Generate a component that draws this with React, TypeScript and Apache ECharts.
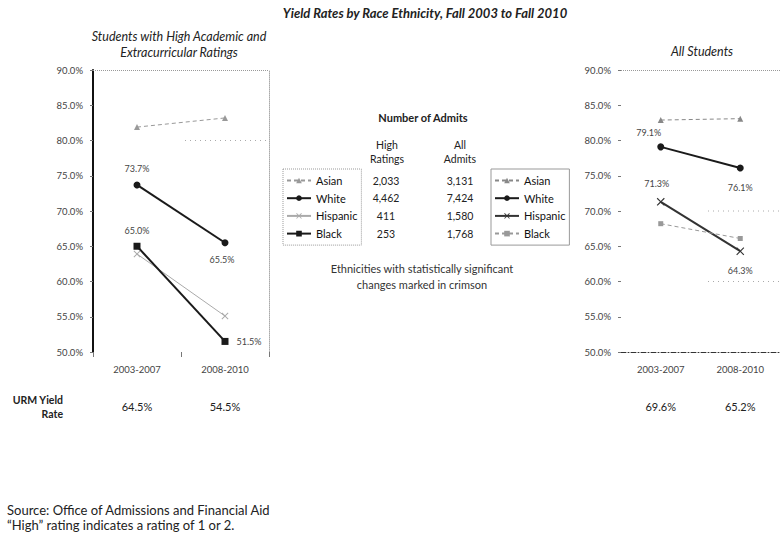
import React, { useEffect, useRef } from "react";
import * as echarts from "echarts";

// ---- data ----
const periods = ["2003-2007", "2008-2010"];
const ethnicities = ["Asian", "White", "Hispanic", "Black"];

// yield rates (%), students with high academic & extracurricular ratings
const highAsian = [81.9, 83.2];
const highWhite = [73.7, 65.5];
const highHispanic = [63.9, 55.1];
const highBlack = [65.0, 51.5];

// yield rates (%), all students
const allAsian = [82.9, 83.1];
const allWhite = [79.1, 76.1];
const allHispanic = [71.3, 64.3];
const allBlack = [68.2, 66.1];

// URM yield rate (%) per period
const urmHigh = [64.5, 54.5];
const urmAll = [69.6, 65.2];

// number of admits
const admitsHigh = ["2,033", "4,462", "411", "253"];
const admitsAll = ["3,131", "7,424", "1,580", "1,768"];

const Y_MIN = 50;
const Y_MAX = 90;
const Y_STEP = 5;

// ---- layout / style ----
const FONT = "Lato, 'Open Sans', sans-serif";
const GRID_L = { left: 93, top: 70, width: 176, height: 282 };
const GRID_R = { left: 621, top: 70, width: 168, height: 282 };
const X_SYMBOL =
  "path://M0,1L1,0L5,4L9,0L10,1L6,5L10,9L9,10L5,6L1,10L0,9L4,5Z";
const ALL_SUFFIX = " (all students)";

type Lbl = { position: any; offset?: number[]; distance?: number } | null;

function pts(values: number[], labels: Lbl[] = []) {
  return values.map((v, i) => {
    const l = labels[i];
    return l ? { value: v, label: { show: true, ...l } } : v;
  });
}

const labelBase = {
  show: false,
  fontSize: 9,
  fontFamily: FONT,
  color: "#444",
  formatter: (p: any) => `${Number(p.value).toFixed(1)}%`,
};

function lineSeries(
  name: string,
  data: any[],
  grid: 0 | 1,
  color: string,
  width: number,
  dash: any,
  symbol: string,
  symbolSize: number
) {
  return {
    type: "line",
    name,
    xAxisIndex: grid,
    yAxisIndex: grid === 0 ? 0 : 2,
    data,
    symbol,
    symbolSize,
    showAllSymbol: true,
    lineStyle: { color, width, type: dash },
    itemStyle: { color },
    label: labelBase,
    emphasis: { disabled: true },
    z: 3,
  };
}

const topLine = {
  silent: true,
  symbol: "none",
  label: { show: false },
  lineStyle: { type: "dotted", color: "#999", width: 1 },
  data: [{ yAxis: Y_MAX }],
};

function yAxisBase(gridIndex: number) {
  return {
    type: "value",
    gridIndex,
    min: Y_MIN,
    max: Y_MAX,
    interval: Y_STEP,
    splitLine: { show: false },
    axisLabel: {
      fontSize: 9.5,
      fontFamily: FONT,
      color: "#444",
      margin: 10,
      formatter: (v: number) => `${v.toFixed(1)}%`,
    },
    axisTick: { show: true, length: 3, lineStyle: { color: "#777" } },
  };
}

function text(
  t: string,
  x: number,
  y: number,
  opts: { size?: number; weight?: string; italic?: boolean; align?: string; color?: string } = {}
) {
  return {
    type: "text",
    x,
    y,
    silent: true,
    style: {
      text: t,
      fontSize: opts.size ?? 10.5,
      fontWeight: opts.weight ?? "normal",
      fontStyle: opts.italic ? "italic" : "normal",
      fontFamily: FONT,
      fill: opts.color ?? "#222",
      align: opts.align ?? "center",
      verticalAlign: "middle",
    },
  };
}

export default function App() {
  const ref = useRef<HTMLDivElement>(null);

  useEffect(() => {
    if (!ref.current) return;
    const chart = echarts.init(ref.current, undefined, { renderer: "svg" });

    const series = [
      // high ratings panel
      {
        ...lineSeries("Asian", pts(highAsian), 0, "#999", 1, [4, 3], "triangle", 6),
        markLine: topLine,
      },
      lineSeries(
        "White",
        pts(highWhite, [
          { position: "top", distance: 8 },
          { position: "bottom", distance: 9, offset: [-3, 0] },
        ]),
        0,
        "#1a1a1a",
        2,
        "solid",
        "circle",
        7
      ),
      lineSeries("Hispanic", pts(highHispanic), 0, "#aaa", 1, "solid", X_SYMBOL, 7),
      lineSeries(
        "Black",
        pts(highBlack, [
          { position: "top", distance: 8 },
          { position: "right", distance: 8 },
        ]),
        0,
        "#1a1a1a",
        2,
        "solid",
        "rect",
        7
      ),
      // all students panel
      {
        ...lineSeries("Asian" + ALL_SUFFIX, pts(allAsian), 1, "#888", 1, [4, 3], "triangle", 6),
        markLine: topLine,
      },
      lineSeries(
        "White" + ALL_SUFFIX,
        pts(allWhite, [
          { position: "top", distance: 6, offset: [-12, 0] },
          { position: "bottom", distance: 12 },
        ]),
        1,
        "#1a1a1a",
        2,
        "solid",
        "circle",
        7
      ),
      lineSeries(
        "Hispanic" + ALL_SUFFIX,
        pts(allHispanic, [
          { position: "top", distance: 10, offset: [-4, 0] },
          { position: "bottom", distance: 11 },
        ]),
        1,
        "#333",
        2,
        "solid",
        X_SYMBOL,
        8
      ),
      lineSeries("Black" + ALL_SUFFIX, pts(allBlack), 1, "#999", 1, [4, 3], "rect", 5),
    ];

    const legendBase = {
      orient: "vertical",
      top: 169,
      itemGap: 6.7,
      itemWidth: 24,
      itemHeight: 7,
      borderColor: "#999",
      borderWidth: 1,
      padding: [6, 4, 6, 3],
      selectedMode: false,
      textStyle: { fontSize: 11, fontFamily: FONT, color: "#111" },
    };

    chart.setOption({
      animation: false,
      backgroundColor: "#fff",
      grid: [
        { ...GRID_L, containLabel: false },
        { ...GRID_R, containLabel: false },
      ],
      xAxis: [
        {
          type: "category",
          gridIndex: 0,
          data: periods,
          boundaryGap: true,
          axisLine: { show: true, lineStyle: { color: "rgba(0,0,0,0)" } },
          axisTick: { show: true, length: 5, lineStyle: { color: "#777" } },
          axisLabel: { fontSize: 9.5, fontFamily: FONT, color: "#444", margin: 12 },
        },
        {
          type: "category",
          gridIndex: 1,
          data: periods,
          boundaryGap: true,
          axisLine: { show: true, lineStyle: { color: "#333", width: 1, type: [5, 2, 1, 2] } },
          axisTick: { show: false },
          axisLabel: { fontSize: 9.5, fontFamily: FONT, color: "#444", margin: 12 },
        },
      ],
      yAxis: [
        {
          ...yAxisBase(0),
          axisLine: { show: true, lineStyle: { color: "#111", width: 2 } },
        },
        {
          type: "value",
          gridIndex: 0,
          position: "right",
          min: Y_MIN,
          max: Y_MAX,
          interval: Y_STEP,
          axisLabel: { show: false },
          axisTick: { show: false },
          splitLine: { show: false },
          axisLine: { show: true, lineStyle: { color: "#aaa", type: "dotted", width: 1 } },
        },
        {
          ...yAxisBase(1),
          axisLine: { show: false },
        },
      ],
      legend: [
        { ...legendBase, left: 283, data: ethnicities, borderType: "dotted" },
        {
          ...legendBase,
          left: 491,
          data: ethnicities.map((e) => e + ALL_SUFFIX),
          formatter: (n: string) => n.replace(ALL_SUFFIX, ""),
        },
      ],
      series,
    });

    // positions derived from the axes
    const xl = periods.map((p) => chart.convertToPixel({ xAxisIndex: 0 }, p) as number);
    const xr = periods.map((p) => chart.convertToPixel({ xAxisIndex: 1 }, p) as number);
    const yOf = (v: number) => chart.convertToPixel({ yAxisIndex: 0 }, v) as number;
    const gridRightL = GRID_L.left + GRID_L.width;

    const dotted = (x1: number, x2: number, y: number) => ({
      type: "line",
      silent: true,
      shape: { x1, y1: y, x2, y2: y },
      style: { stroke: "#aaa", lineWidth: 1, lineDash: [1, 4] },
      z: 1,
    });

    const rowY = [180.5, 198.2, 215.9, 233.6];

    const graphics: any[] = [
      text("Yield Rates by Race Ethnicity, Fall 2003 to Fall 2010", 425, 13, {
        size: 13,
        weight: "bold",
        italic: true,
      }),
      text("Students with High Academic and", 179, 36, { size: 12.5, italic: true }),
      text("Extracurricular Ratings", 179, 52, { size: 12.5, italic: true }),
      text("All Students", 702, 51, { size: 12.5, italic: true }),
      text("Number of Admits", 423, 117, { size: 11, weight: "bold" }),
      text("High", 387, 145),
      text("Ratings", 387, 159),
      text("All", 460, 145),
      text("Admits", 460, 159),
      ...admitsHigh.map((v, i) => text(v, 386, rowY[i])),
      ...admitsAll.map((v, i) => text(v, 460, rowY[i])),
      text("Ethnicities with statistically significant", 422, 268, { size: 11, color: "#333" }),
      text("changes marked in crimson", 422, 284, { size: 11, color: "#333" }),
      text("URM Yield", 63, 400, { weight: "bold", align: "right" }),
      text("Rate", 63, 414, { weight: "bold", align: "right" }),
      ...urmHigh.map((v, i) => text(`${v.toFixed(1)}%`, xl[i], 406, { size: 11 })),
      ...urmAll.map((v, i) => text(`${v.toFixed(1)}%`, xr[i], 406, { size: 11 })),
      text("Source: Office of Admissions and Financial Aid", 7, 510, { size: 13, align: "left" }),
      text("\u201CHigh\u201D rating indicates a rating of 1 or 2.", 7, 525, {
        size: 13,
        align: "left",
      }),
      dotted(185, gridRightL, yOf(80)),
      dotted(708, 780, chart.convertToPixel({ yAxisIndex: 2 }, 70) as number),
      dotted(708, 780, chart.convertToPixel({ yAxisIndex: 2 }, 60) as number),
    ];

    chart.setOption({ graphic: graphics });

    return () => chart.dispose();
  }, []);

  return (
    <div
      ref={ref}
      style={{ position: "fixed", left: 0, top: 0, width: 780, height: 544, background: "#fff" }}
    />
  );
}
